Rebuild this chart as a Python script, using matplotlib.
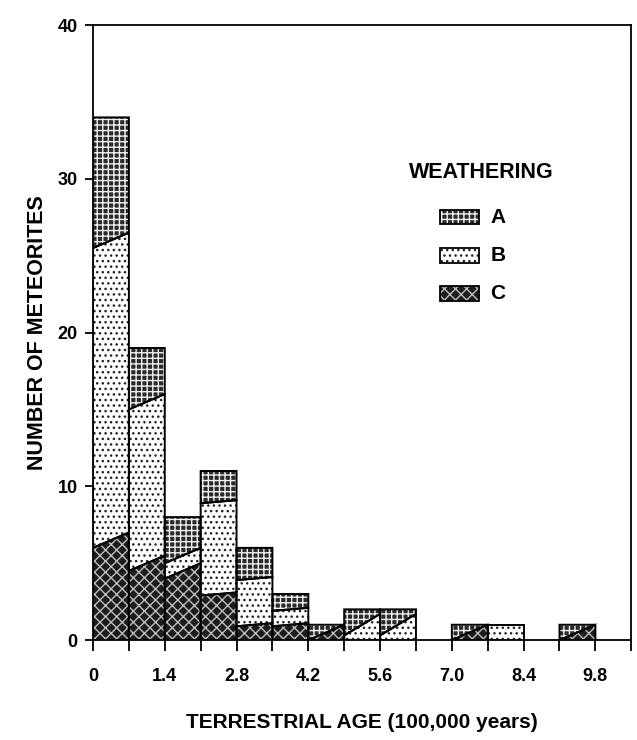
import matplotlib
matplotlib.use("Agg")
import matplotlib.pyplot as plt
from matplotlib.patches import Rectangle
import numpy as np

plt.rcParams['font.family'] = ['Liberation Sans', 'DejaVu Sans']
plt.rcParams['font.weight'] = 'bold'
plt.rcParams['hatch.linewidth'] = 1.0

# ---- data (bins of width 0.7 x 100,000 years) ----
bin_left = [0.0, 0.7, 1.4, 2.1, 2.8, 3.5, 4.2, 4.9, 5.6, 6.3, 7.0, 7.7, 8.4, 9.1]
bin_width = 0.7
weather_C = [6.5, 5.0, 4.5, 3.0, 1.0, 1.0, 0.5, 0.0, 0.0, 0.0, 0.5, 0.0, 0.0, 0.5]
weather_B = [19.5, 10.5, 1.0, 6.0, 3.0, 1.0, 0.0, 1.0, 1.0, 0.0, 0.0, 1.0, 0.0, 0.0]
weather_A = [8.0, 3.5, 2.5, 2.0, 2.0, 1.0, 0.5, 1.0, 1.0, 0.0, 0.5, 0.0, 0.0, 0.5]
x_tick_labels = ['0', '1.4', '2.8', '4.2', '5.6', '7.0', '8.4', '9.8']
x_tick_values = [0.0, 1.4, 2.8, 4.2, 5.6, 7.0, 8.4, 9.8]
y_ticks = [0, 10, 20, 30, 40]
legend_labels = ['A', 'B', 'C']

# ---- style ----
slant = [0.5, 0.5, 0.5, 0.1, 0.1, 0.1, 0.5, 0.7, 0.7, 0.0, 0.5, 0.0, 0.0, 0.5]
styles = {
    'A': dict(face='#2b2b2b', hatch='+++', hcol='#f0f0f0'),
    'B': dict(face='#ffffff', hatch='...', hcol='#222222'),
    'C': dict(face='#1c1c1c', hatch='xxx', hcol='#bdbdbd'),
}

fig = plt.figure(figsize=(6.37, 7.40), dpi=100)
ax = fig.add_axes([0.146, 0.135, 0.845, 0.831])


def boundary(cum, total, d):
    if cum <= 0 or cum >= total:
        return cum, cum
    return cum - d, cum + d


for i, x0 in enumerate(bin_left):
    x1 = x0 + bin_width
    segs = [('C', weather_C[i]), ('B', weather_B[i]), ('A', weather_A[i])]
    total = sum(v for _, v in segs)
    if total == 0:
        continue
    cum = 0.0
    for name, v in segs:
        if v <= 0:
            cum += v
            continue
        lo = boundary(cum, total, slant[i])
        hi = boundary(cum + v, total, slant[i])
        xs = [x0, x1, x1, x0]
        ys = [lo[0], lo[1], hi[1], hi[0]]
        st = styles[name]
        ax.fill(xs, ys, facecolor=st['face'], hatch=st['hatch'],
                edgecolor=st['hcol'], linewidth=0, zorder=2)
        ax.fill(xs, ys, facecolor='none', edgecolor='black',
                linewidth=1.4, zorder=3)
        cum += v

ax.set_xlim(0, 10.5)
ax.set_ylim(0, 40)
ax.set_xticks(np.arange(0, 10.5, 0.7), minor=True)
ax.set_xticks(x_tick_values)
ax.set_xticklabels(x_tick_labels, fontsize=13, fontweight='bold')
ax.set_yticks(y_ticks)
ax.set_yticklabels([str(t) for t in y_ticks], fontsize=13, fontweight='bold')
ax.tick_params(axis='x', which='both', direction='out', length=8, width=1.3,
               pad=12)
ax.tick_params(axis='y', direction='out', length=6, width=1.3, pad=5)
for sp in ax.spines.values():
    sp.set_linewidth(1.3)

ax.set_ylabel('NUMBER OF METEORITES', fontsize=15.5, fontweight='bold',
              labelpad=7)
ax.set_xlabel('TERRESTRIAL AGE (100,000 years)', fontsize=15,
              fontweight='bold', labelpad=20)

# ---- legend ----
ax.text(0.721, 0.761, 'WEATHERING', transform=ax.transAxes, fontsize=15.5,
        fontweight='bold', ha='center', va='center')
leg_y = [0.688, 0.626, 0.564]
for lab, yy in zip(legend_labels, leg_y):
    st = styles[lab]
    ax.add_patch(Rectangle((0.645, yy - 0.012), 0.072, 0.024,
                           transform=ax.transAxes, facecolor=st['face'],
                           hatch=st['hatch'], edgecolor=st['hcol'],
                           linewidth=0, zorder=4))
    ax.add_patch(Rectangle((0.645, yy - 0.012), 0.072, 0.024,
                           transform=ax.transAxes, facecolor='none',
                           edgecolor='black', linewidth=1.3, zorder=5))
    ax.text(0.752, yy, lab, transform=ax.transAxes, fontsize=15,
            fontweight='bold', ha='center', va='center')

fig.savefig('out.png', dpi=100)
